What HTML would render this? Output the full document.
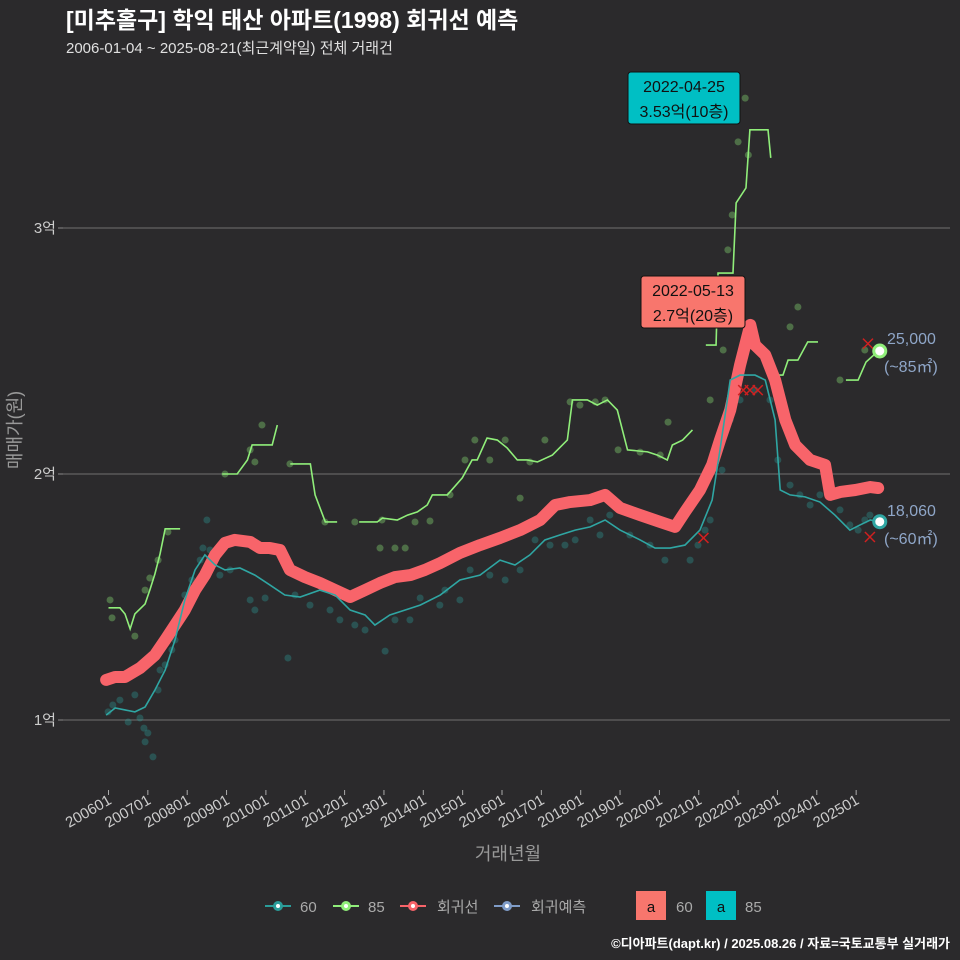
<!DOCTYPE html>
<html><head><meta charset="utf-8">
<style>
html,body{margin:0;padding:0;background:#2b2a2c;}
svg{display:block;font-family:"Liberation Sans","Noto Sans CJK KR",sans-serif;}
</style></head>
<body>
<svg id="chart" width="960" height="960" viewBox="0 0 960 960">
<rect width="960" height="960" fill="#2b2a2c"/>
<text x="66" y="28" fill="#ffffff" font-size="23" font-weight="bold">[미추홀구] 학익 태산 아파트(1998) 회귀선 예측</text>
<text x="66" y="53" fill="#e0e0e0" font-size="15">2006-01-04 ~ 2025-08-21(최근계약일) 전체 거래건</text>
<g id="grid"></g>
<g id="marks"></g>
<g id="axes"></g>
<text x="508" y="860" fill="#999" font-size="18" text-anchor="middle">거래년월</text>
<text transform="translate(21,430) rotate(-90)" fill="#999" font-size="18" text-anchor="middle">매매가(원)</text>
<g font-size="15" fill="#aaa">
 <g><line x1="265" y1="906" x2="291" y2="906" stroke="#2a9d9a" stroke-width="2"/><circle cx="278" cy="906" r="5" fill="#2a9d9a"/><circle cx="278" cy="906" r="2" fill="#fff"/><text x="300" y="912">60</text></g>
 <g><line x1="333" y1="906" x2="359" y2="906" stroke="#90ee7a" stroke-width="2"/><circle cx="346" cy="906" r="5" fill="#90ee7a"/><circle cx="346" cy="906" r="2" fill="#fff"/><text x="368" y="912">85</text></g>
 <g><line x1="400" y1="906" x2="426" y2="906" stroke="#f8646a" stroke-width="2"/><circle cx="413" cy="906" r="5" fill="#f8646a"/><circle cx="413" cy="906" r="2" fill="#fff"/><text x="437" y="912">회귀선</text></g>
 <g><line x1="494" y1="906" x2="520" y2="906" stroke="#7f9cc8" stroke-width="2"/><circle cx="507" cy="906" r="5" fill="#7f9cc8"/><circle cx="507" cy="906" r="2" fill="#fff"/><text x="531" y="912">회귀예측</text></g>
 <rect x="636" y="891" width="30" height="29" fill="#f8766d"/><text x="651" y="912" fill="#111" text-anchor="middle">a</text><text x="676" y="912">60</text>
 <rect x="706" y="891" width="30" height="29" fill="#00bfc4"/><text x="721" y="912" fill="#111" text-anchor="middle">a</text><text x="745" y="912">85</text>
</g>
<text x="950" y="948" fill="#ffffff" font-size="13" font-weight="bold" text-anchor="end">©디아파트(dapt.kr) / 2025.08.26 / 자료=국토교통부 실거래가</text>
</svg>
<script>
const yTicks=[10000,20000,30000];
const yTickLabels=["1억","2억","3억"];
const xTickYears=[2006,2007,2008,2009,2010,2011,2012,2013,2014,2015,2016,2017,2018,2019,2020,2021,2022,2023,2024,2025];
const regDates=[2005.94,2006.17,2006.42,2006.8,2007.18,2007.44,2007.69,2007.94,2008.2,2008.45,2008.71,2008.96,2009.21,2009.6,2009.85,2010.1,2010.36,2010.61,2010.99,2011.37,2011.76,2012.14,2012.52,2012.9,2013.28,2013.67,2014.04,2014.43,2014.93,2015.44,2015.95,2016.46,2016.97,2017.35,2017.73,2018.24,2018.62,2019.0,2019.51,2020.02,2020.4,2020.65,2021.03,2021.34,2021.54,2021.8,2022.05,2022.31,2022.43,2022.69,2022.94,2023.2,2023.45,2023.83,2024.21,2024.34,2024.6,2024.98,2025.36,2025.56];
const regValues=[11630,11750,11750,12110,12640,13250,13860,14470,15280,15890,16710,17200,17320,17240,16990,16990,16910,16100,15810,15570,15280,15000,15280,15570,15810,15890,16100,16380,16790,17110,17400,17720,18130,18740,18860,18940,19150,18620,18330,18050,17850,18460,19350,20370,21380,22600,24430,26060,25240,24840,23820,22200,21180,20570,20370,19150,19270,19350,19470,19430];
const s60Dates=[2005.94,2006.17,2006.42,2006.67,2006.93,2007.18,2007.44,2007.69,2007.94,2008.2,2008.45,2008.71,2008.96,2009.34,2009.72,2010.1,2010.48,2010.87,2011.37,2011.76,2012.14,2012.52,2012.77,2013.15,2013.54,2013.92,2014.43,2014.93,2015.44,2015.95,2016.33,2016.71,2017.09,2017.47,2017.86,2018.24,2018.62,2019.0,2019.51,2019.89,2020.27,2020.65,2021.03,2021.34,2021.54,2021.8,2022.05,2022.43,2022.69,2022.94,2023.07,2023.32,2023.7,2024.08,2024.46,2024.84,2025.1,2025.36,2025.56];
const s60Values=[10200,10490,10410,10330,10530,11220,12030,13250,14880,16100,16710,16300,16100,16180,15890,15490,15080,15000,15280,15080,14470,14270,13860,14270,14470,14670,15080,15690,15890,16500,16300,16710,17320,17520,17720,17850,18130,17720,17320,16990,16990,17110,17720,18940,20980,23820,24020,24020,23820,22200,19350,19150,19070,18860,18330,17720,17930,18130,18060];
const s85Dates=[2006.0,2006.29,2006.42,2006.55,2006.67,2006.93,2007.06,2007.18,2007.31,2007.44,2007.82,null,2008.89,2009.27,2009.53,2009.65,2010.16,2010.29,null,2010.62,2011.13,2011.25,2011.51,2011.81,null,2012.37,2012.83,2012.96,2013.34,2013.6,2013.85,2014.1,2014.23,2014.61,2014.99,2015.24,2015.37,2015.62,2015.88,2016.13,2016.39,2016.64,2016.9,2017.28,2017.66,2017.79,2018.17,2018.42,2018.68,2018.93,2019.19,2019.7,2019.95,2020.2,2020.33,2020.59,2020.84,null,2021.18,2021.44,2021.49,2021.87,2021.95,2022.2,2022.3,2022.76,2022.83,null,2022.89,2023.14,2023.27,2023.52,2023.77,2024.03,null,2024.74,2025.05,2025.25,2025.56];
const s85Values=[14560,14560,14310,13700,14310,14720,15330,15940,16750,17770,17770,null,20000,20000,20570,21180,21180,21990,null,20410,20410,19150,18050,18050,null,18050,18050,18210,18130,18330,18460,18740,19150,19150,19840,20570,20570,21460,21380,21060,20570,20570,20490,20770,21380,23010,23010,22800,23010,22600,20980,20900,20770,20570,21180,21380,21790,null,25240,25240,28170,28170,31020,31630,33990,33990,32850,null,24020,24020,24630,24630,25370,25370,null,23820,23820,24550,25000];
const p60Dates=[2005.99,2006.11,2006.29,2006.5,2006.67,2006.8,2006.9,2006.93,2007.0,2007.13,2007.26,2007.31,2007.44,2007.61,2007.69,2007.82,2007.94,2008.12,2008.33,2008.4,2008.5,2008.58,2008.83,2009.09,2009.6,2009.72,2009.98,2010.56,2010.74,2011.12,2011.63,2011.88,2012.26,2012.52,2013.03,2013.28,2013.66,2013.92,2014.42,2014.55,2014.93,2015.19,2015.69,2016.08,2016.46,2016.84,2017.22,2017.6,2017.86,2018.24,2018.49,2018.74,2019.25,2019.76,2020.14,2020.78,2020.98,2021.16,2021.29,2021.59,2021.8,2022.05,2022.43,2022.81,2023.01,2023.32,2023.57,2023.83,2024.08,2024.59,2024.84,2025.05,2025.22,2025.35];
const p60Values=[10330,10610,10810,9920,11020,10080,9670,9110,9470,8500,11220,12030,12240,12850,13250,14070,15080,15690,16500,16990,18130,16910,15890,16100,14880,14470,14960,12520,15080,14670,14470,14070,13860,13660,12800,14070,14070,14960,14670,15280,14880,16100,15890,15690,16100,17320,17110,17110,17320,18130,17520,18330,17520,17110,16500,16500,17110,17720,18130,20160,22200,23010,23410,23010,20570,19550,19150,18740,19150,18540,17930,17720,18130,18330];
const p85Dates=[2006.04,2006.09,2006.67,2006.93,2007.05,2007.26,2007.51,2008.96,2009.6,2009.72,2009.9,2010.61,2011.5,2012.26,2012.9,2012.95,2013.28,2013.54,2013.79,2014.17,2014.68,2015.06,2015.31,2015.69,2016.08,2016.46,2016.71,2017.09,2017.73,2017.98,2018.37,2018.62,2018.95,2019.51,2020.02,2020.22,2020.91,2021.29,2021.62,2021.74,2021.85,2022.0,2022.18,2022.26,2023.32,2023.52,2024.59,2025.22];
const p85Values=[14880,14150,13410,15280,15770,16500,17640,20000,20980,20490,21990,20410,18050,18050,16990,18130,16990,16990,18050,18090,19150,20570,21380,20570,21380,19020,20490,21380,22930,22800,22930,23010,20980,20890,20770,22110,27070,23010,25040,29110,30530,33500,35280,32970,25980,26790,23820,25040];
const crossDates=[2021.12,2022.13,2022.3,2022.5,2025.35,2025.3];
const crossValues=[17400,23410,23410,23410,17440,25300];
const NS="http://www.w3.org/2000/svg";
const X=t=>108.5+(t-2006)*39.35;
const Y=v=>720-(v-10000)*0.0246;
function el(tag,attrs,parent){const e=document.createElementNS(NS,tag);for(const k in attrs)e.setAttribute(k,attrs[k]);parent.appendChild(e);return e;}
const grid=document.getElementById('grid'),marks=document.getElementById('marks'),axes=document.getElementById('axes');
yTicks.forEach((v,i)=>{
 const l=el('line',{x1:63,x2:950,y1:Y(v),y2:Y(v),stroke:'#707070','stroke-width':1},grid);
 
 
 const tk=el('line',{x1:58,x2:63,y1:Y(v),y2:Y(v),stroke:'#888'},axes);
 
 
 const t=el('text',{x:56,y:Y(v)+5,fill:'#ccc','font-size':15,'text-anchor':'end'},axes);
 t.textContent=yTickLabels[i];
 
 
});
xTickYears.forEach(y=>{
 const x=X(y);
 const tk=el('line',{x1:x,x2:x,y1:790,y2:795,stroke:'#aaa'},axes);
 
 
 const t=el('text',{transform:`translate(${x+4},${803}) rotate(-30)`,fill:'#ccc','font-size':15,'text-anchor':'end'},axes);
 t.textContent=y+'01';
 
 
});
function pathFrom(ds,vs){let d='',pen=false;for(let i=0;i<ds.length;i++){if(ds[i]===null){pen=false;continue;}const x=X(ds[i]),y=Y(vs[i]);if(!pen){d+=`M${x},${y}`;pen=true;}else{d+=`L${x},${y}`;}}return d;}
p60Dates.forEach((d,i)=>{const c=el('circle',{cx:X(d),cy:Y(p60Values[i]),r:3.5,fill:'#2a9d9a','fill-opacity':0.35},marks);
 
 });
p85Dates.forEach((d,i)=>{const c=el('circle',{cx:X(d),cy:Y(p85Values[i]),r:3.5,fill:'#90ee7a','fill-opacity':0.35},marks);
 
 });
const l85=el('path',{d:pathFrom(s85Dates,s85Values),fill:'none',stroke:'#90ee7a','stroke-width':1.6},marks);


const reg=el('path',{d:pathFrom(regDates,regValues),fill:'none',stroke:'#f8646a','stroke-width':12,'stroke-linejoin':'round','stroke-linecap':'round'},marks);


const l60=el('path',{d:pathFrom(s60Dates,s60Values),fill:'none',stroke:'#2fa6a3','stroke-width':1.6},marks);


crossDates.forEach((d,i)=>{const x=X(d),y=Y(crossValues[i]);const c=el('path',{d:`M${x-5},${y-5}L${x+5},${y+5}M${x-5},${y+5}L${x+5},${y-5}`,stroke:'#d02020','stroke-width':1.5},marks);
 
 });
const e85=el('circle',{cx:X(2025.6),cy:Y(25000),r:6,fill:'#fff',stroke:'#90ee7a','stroke-width':3},marks);


const e60=el('circle',{cx:X(2025.6),cy:Y(18060),r:6,fill:'#fff',stroke:'#2fa6a3','stroke-width':3},marks);


function label(x,y,txt,name){const t=el('text',{x:x,y:y,fill:'#8fa6c8','font-size':16},marks);t.textContent=txt;
 
 }
label(887,344,'25,000','last-value-85');label(884,372,'(~85㎡)','last-area-85');
label(887,516,'18,060','last-value-60');label(884,544,'(~60㎡)','last-area-60');
function box(x,y,w,h,fill,l1,l2,name){const g=el('g',{},marks);
 
 
 el('rect',{x:x,y:y,width:w,height:h,rx:3,fill:fill,stroke:'#111','stroke-width':1},g);
 const a=el('text',{x:x+w/2,y:y+20,'font-size':16,fill:'#111','text-anchor':'middle'},g);a.textContent=l1;
 const b=el('text',{x:x+w/2,y:y+45,'font-size':16,fill:'#111','text-anchor':'middle'},g);b.textContent=l2;}
box(628,72,112,52,'#00bfc4','2022-04-25','3.53억(10층)','max-annotation-85');
box(641,276,104,52,'#f8766d','2022-05-13','2.7억(20층)','max-annotation-60');
</script>
</body></html>
